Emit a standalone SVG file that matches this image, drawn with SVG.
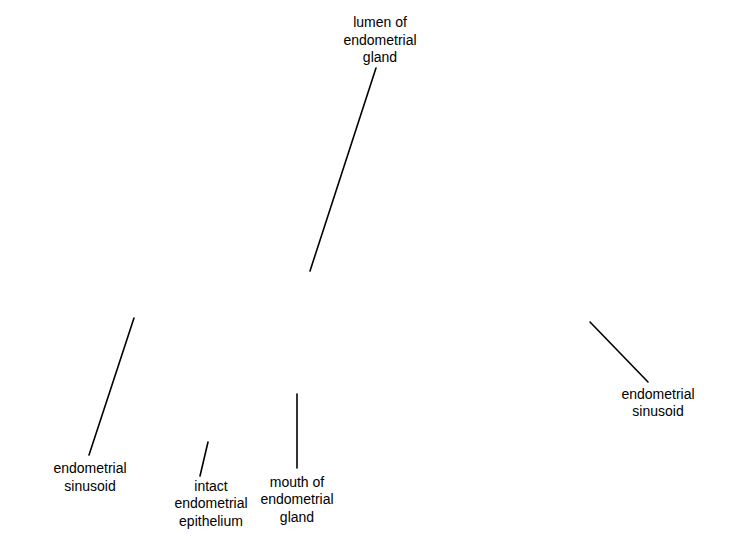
<svg xmlns="http://www.w3.org/2000/svg" width="750" height="550" viewBox="0 0 750 550">
<style>
text{font-family:"Liberation Sans",Arial,sans-serif;font-size:14px;fill:#000;text-anchor:middle}
.c line{stroke:#000;stroke-width:1.6;stroke-linecap:round}
</style>
<rect width="750" height="550" fill="#fff"/>
<g class="c" id="connectors">
<line x1="376" y1="68" x2="310" y2="271"/>
<line x1="134" y1="318" x2="89" y2="455"/>
<line x1="208" y1="442" x2="200" y2="476"/>
<line x1="297" y1="394" x2="297" y2="468"/>
<line x1="590" y1="322" x2="648" y2="382"/>
</g>
<g id="lumen"><text x="380" y="27">lumen of</text><text x="380" y="45">endometrial</text><text x="380" y="62">gland</text></g>
<g id="sinusoid-left"><text x="90" y="473">endometrial</text><text x="90" y="491">sinusoid</text></g>
<g id="epithelium"><text x="211" y="491">intact</text><text x="211" y="508">endometrial</text><text x="211" y="526">epithelium</text></g>
<g id="mouth"><text x="297" y="487">mouth of</text><text x="297" y="504">endometrial</text><text x="297" y="522">gland</text></g>
<g id="sinusoid-right"><text x="658" y="399">endometrial</text><text x="658" y="416">sinusoid</text></g>
</svg>
